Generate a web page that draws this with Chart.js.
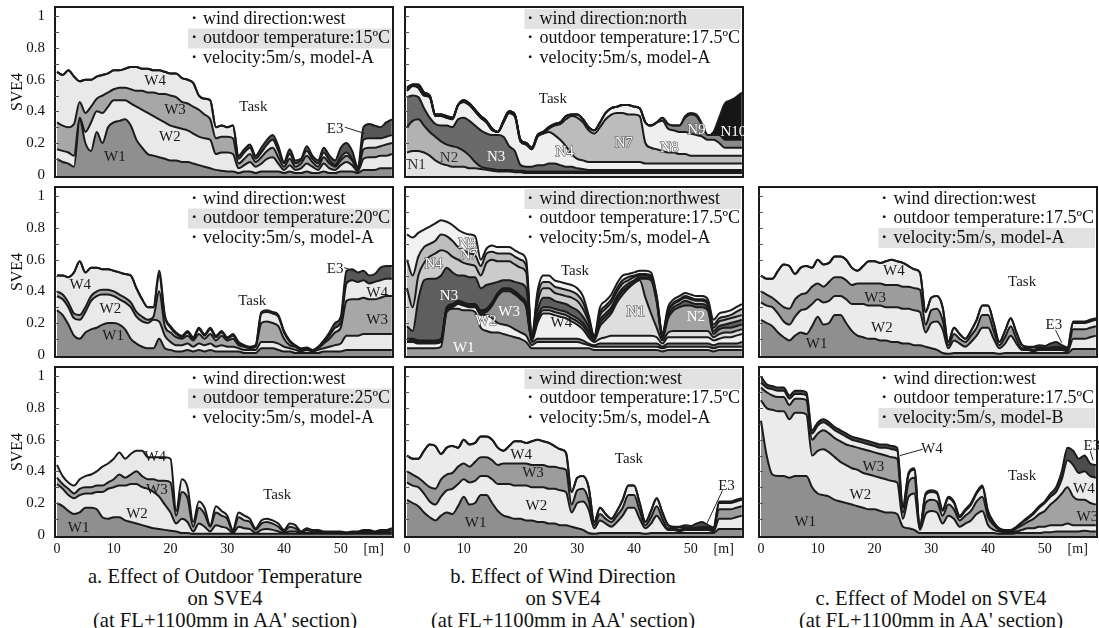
<!DOCTYPE html>
<html>
<head>
<meta charset="utf-8">
<script src="https://cdn.jsdelivr.net/npm/chart.js@4.4.1/dist/chart.umd.min.js"></script>
<style>
html,body{margin:0;padding:0;background:#fff;}
body{width:1099px;height:628px;position:relative;overflow:hidden;font-family:"Liberation Serif","Times New Roman",serif;}
canvas{position:absolute;}
.cap{position:absolute;text-align:center;font-size:20px;line-height:21px;color:#111;white-space:nowrap;transform:translateX(-50%) scale(1.03,1.05);transform-origin:50% 0;}
</style>
</head>
<body>
<div class="cap" style="left:225px;top:565px;">a. Effect of Outdoor Temperature<br>on SVE4<br>(at FL+1100mm in AA' section)</div>
<div class="cap" style="left:563px;top:565px;">b. Effect of Wind Direction<br>on SVE4<br>(at FL+1100mm in AA' section)</div>
<div class="cap" style="left:931px;top:587px;">c. Effect of Model on SVE4<br>(at FL+1100mm in AA' section)</div>
<script>
// distance along the section [m]
const distanceM = [0,1,2,3,4,5,6,7,8,9,10,11,12,13,14,15,16,17,18,19,20,21,22,23,24,25,26,27,28,29,30,31,32,33,34,35,36,37,38,39,40,41,42,43,44,45,46,47,48,49,50,51,52,53,54,55,56,57,58,59];
const yTickValues = [0,0.2,0.4,0.6,0.8,1];
const yTickLabels = ['0','0.2','0.4','0.6','0.8','1'];
const yMinorTicks = [0.1,0.2,0.3,0.4,0.5,0.6,0.7,0.8,0.9,1.0];
const xTickValues = [0,10,20,30,40,50,55.8];
const xTickLabels = ['0','10','20','30','40','50','[m]'];

// cumulative SVE4 levels (top of each window layer), west wind, 15ºC, model-A
const t15W1 = [.10,.08,.07,.05,.35,.2,.15,.27,.2,.3,.33,.34,.35,.31,.22,.17,.13,.12,.11,.1,.09,.09,.08,.08,.07,.06,.05,.04,.03,.025,.02,.02,.01,.02,.02,.01,.02,.02,.02,.02,.01,.02,.01,.01,.02,.01,.01,.02,.01,.01,.02,.02,.02,.01,.03,.03,.03,.04,.04,.04];
const t15W2 = [.16,.15,.14,.12,.36,.27,.33,.4,.39,.43,.47,.47,.47,.45,.43,.41,.39,.37,.35,.33,.31,.3,.29,.28,.26,.24,.23,.22,.13,.14,.14,.13,.04,.06,.08,.05,.07,.1,.11,.07,.03,.06,.03,.04,.07,.05,.03,.07,.04,.03,.06,.08,.06,.02,.1,.11,.11,.12,.12,.13];
const t15W3 = [.33,.31,.3,.32,.46,.39,.43,.48,.5,.52,.54,.55,.55,.54,.53,.53,.52,.52,.51,.51,.5,.49,.46,.45,.43,.41,.38,.35,.23,.24,.24,.23,.07,.1,.13,.08,.11,.15,.17,.11,.05,.1,.05,.07,.12,.08,.05,.11,.07,.05,.09,.12,.09,.03,.16,.17,.17,.18,.19,.2];
const t15W4 = [.65,.63,.66,.62,.59,.6,.6,.62,.63,.64,.66,.66,.67,.68,.68,.67,.67,.66,.66,.65,.64,.64,.61,.6,.58,.5,.48,.47,.3,.31,.3,.31,.1,.14,.17,.1,.14,.19,.22,.15,.07,.13,.07,.09,.15,.1,.07,.14,.09,.06,.11,.14,.1,.04,.22,.23,.23,.23,.24,.25];
const t15E3 = [.65,.63,.66,.62,.59,.6,.6,.62,.63,.64,.66,.66,.67,.68,.68,.67,.67,.66,.66,.65,.64,.64,.61,.6,.58,.5,.48,.47,.3,.31,.3,.31,.12,.16,.19,.12,.17,.22,.25,.18,.08,.16,.09,.1,.18,.12,.09,.17,.12,.09,.17,.2,.15,.05,.3,.32,.31,.3,.33,.35];

// west wind, 20ºC, model-A
const t20W1 = [.28,.25,.19,.12,.1,.14,.16,.17,.19,.2,.2,.19,.16,.1,.07,.05,.04,.04,.1,.04,.03,.02,.02,.03,.02,.03,.02,.03,.02,.02,.02,.02,.02,.01,.01,.01,.04,.04,.04,.03,.02,.02,.01,.01,.01,.01,.01,.02,.02,.02,.02,.03,.03,.03,.03,.03,.03,.03,.03,.03];
const t20W2 = [.37,.35,.3,.23,.22,.27,.34,.37,.38,.38,.37,.35,.33,.3,.24,.21,.2,.22,.21,.12,.08,.06,.06,.07,.05,.07,.06,.07,.05,.06,.05,.05,.04,.03,.03,.03,.08,.08,.08,.07,.05,.04,.03,.02,.03,.02,.03,.04,.05,.06,.07,.12,.12,.12,.13,.13,.13,.13,.13,.13];
const t20W3 = [.4,.38,.33,.26,.25,.3,.37,.4,.41,.41,.4,.38,.36,.33,.27,.24,.22,.24,.4,.18,.14,.11,.1,.12,.09,.13,.1,.13,.09,.12,.09,.1,.06,.05,.04,.05,.2,.21,.2,.18,.1,.06,.05,.03,.035,.025,.04,.07,.1,.14,.17,.34,.35,.35,.36,.35,.35,.36,.37,.37];
const t20W4 = [.5,.5,.49,.52,.59,.52,.55,.55,.54,.54,.53,.52,.51,.5,.42,.35,.3,.3,.5,.24,.17,.13,.11,.14,.1,.16,.12,.16,.11,.14,.1,.12,.07,.055,.045,.055,.26,.27,.26,.24,.14,.08,.055,.035,.04,.028,.045,.08,.12,.17,.2,.45,.47,.46,.47,.45,.46,.47,.48,.48];
const t20E3 = [.5,.5,.49,.52,.59,.52,.55,.55,.54,.54,.53,.52,.51,.5,.42,.35,.3,.3,.53,.25,.18,.14,.12,.15,.11,.17,.13,.17,.12,.15,.11,.13,.08,.06,.05,.06,.27,.28,.27,.25,.15,.09,.06,.04,.045,.03,.05,.09,.14,.2,.24,.53,.54,.52,.53,.5,.51,.55,.56,.56];

// west wind, 25ºC, model-A
const t25W1 = [.2,.18,.15,.13,.14,.17,.17,.16,.11,.1,.11,.11,.09,.08,.07,.06,.05,.04,.035,.03,.025,.02,.01,.01,.005,.005,.005,.005,.005,.005,.005,.005,.005,.005,.005,.005,.005,.005,.005,.005,.005,.005,.005,.005,.005,.005,.005,.005,.005,.005,.005,.005,.005,.005,.005,.005,.005,.005,.005,.005];
const t25W2 = [.32,.29,.25,.23,.25,.26,.26,.27,.27,.29,.3,.31,.31,.32,.32,.3,.29,.27,.24,.19,.14,.07,.1,.08,.02,.07,.05,.02,.06,.05,.04,.01,.05,.04,.035,.01,.03,.035,.03,.02,.01,.02,.02,.01,.01,.01,.01,.01,.01,.01,.01,.008,.01,.01,.012,.012,.01,.012,.012,.015];
const t25W3 = [.36,.32,.29,.26,.29,.3,.3,.31,.31,.33,.35,.38,.36,.38,.4,.37,.35,.35,.34,.34,.33,.12,.27,.23,.05,.17,.13,.05,.14,.12,.1,.02,.11,.09,.08,.03,.07,.08,.07,.05,.02,.05,.04,.015,.03,.02,.02,.015,.015,.015,.015,.01,.015,.015,.02,.02,.015,.02,.02,.03];
const t25W4 = [.44,.37,.33,.31,.35,.37,.38,.4,.43,.45,.48,.52,.48,.51,.53,.53,.49,.49,.49,.49,.48,.15,.35,.3,.08,.21,.17,.06,.18,.15,.12,.03,.14,.12,.1,.04,.09,.1,.09,.07,.03,.07,.06,.02,.04,.03,.03,.02,.02,.02,.02,.015,.02,.02,.03,.03,.02,.03,.03,.04];

// north wind, 17.5ºC, model-A
const nN1 = [.14,.15,.15,.14,.12,.09,.07,.06,.05,.05,.05,.04,.04,.035,.03,.025,.02,.02,.02,.015,.015,.01,.01,.01,.01,.01,.01,.01,.01,.01,.01,.01,.01,.01,.01,.01,.01,.01,.01,.01,.01,.01,.01,.01,.01,.01,.01,.01,.01,.01,.01,.01,.01,.01,.01,.01,.01,.01,.01,.01];
const nN2 = [.3,.34,.35,.31,.27,.24,.21,.19,.18,.17,.15,.12,.08,.05,.04,.035,.03,.03,.03,.025,.025,.02,.02,.02,.02,.02,.02,.02,.02,.02,.02,.02,.02,.02,.02,.02,.02,.02,.02,.02,.02,.02,.02,.02,.02,.02,.02,.02,.02,.02,.02,.02,.02,.02,.02,.02,.02,.02,.02,.02];
const nN3 = [.49,.5,.49,.42,.36,.32,.31,.31,.3,.35,.36,.34,.31,.28,.26,.25,.25,.24,.18,.15,.06,.05,.05,.06,.06,.07,.07,.06,.05,.05,.04,.035,.03,.03,.03,.03,.03,.03,.03,.03,.03,.03,.03,.03,.03,.03,.03,.03,.03,.03,.03,.03,.03,.03,.03,.03,.03,.03,.03,.03];
const nN4 = [.53,.56,.55,.5,.49,.37,.37,.36,.35,.44,.46,.44,.4,.36,.33,.28,.27,.33,.39,.37,.21,.19,.16,.24,.26,.27,.25,.22,.18,.13,.1,.09,.08,.08,.08,.08,.08,.08,.08,.08,.08,.08,.07,.07,.07,.07,.07,.07,.07,.07,.07,.07,.07,.07,.07,.07,.07,.07,.07,.07];
const nN7 = [.53,.56,.55,.5,.49,.37,.37,.36,.35,.44,.46,.44,.4,.36,.33,.28,.27,.33,.39,.37,.21,.19,.16,.24,.26,.29,.31,.32,.35,.37,.36,.33,.28,.26,.3,.35,.38,.39,.39,.38,.38,.37,.2,.17,.16,.15,.14,.14,.13,.13,.12,.12,.12,.12,.12,.12,.12,.12,.12,.12];
const nN8 = [.54,.57,.56,.51,.5,.38,.38,.37,.36,.44,.47,.45,.41,.37,.34,.29,.27,.34,.4,.38,.22,.2,.17,.25,.27,.3,.32,.33,.37,.38,.38,.35,.3,.28,.33,.39,.42,.43,.44,.44,.43,.42,.33,.31,.33,.34,.29,.28,.27,.27,.26,.25,.24,.22,.22,.2,.17,.17,.17,.17];
const nN9 = [.55,.57,.57,.52,.5,.38,.38,.37,.36,.44,.47,.45,.41,.37,.34,.29,.27,.34,.4,.38,.22,.2,.17,.25,.27,.3,.32,.33,.37,.38,.38,.35,.3,.28,.33,.39,.42,.43,.44,.44,.43,.42,.33,.31,.33,.36,.32,.31,.31,.36,.38,.37,.31,.25,.25,.25,.22,.22,.22,.22];
const nN10 = [.55,.57,.57,.52,.5,.38,.38,.37,.36,.44,.47,.45,.41,.37,.34,.29,.27,.34,.4,.38,.22,.2,.17,.25,.27,.3,.32,.33,.37,.38,.38,.35,.3,.28,.33,.39,.42,.43,.44,.44,.43,.42,.33,.31,.33,.36,.32,.31,.31,.37,.39,.38,.32,.25,.27,.36,.45,.47,.49,.52];

// northwest wind, 17.5ºC, model-A
const nwW1 = [.04,.04,.04,.04,.04,.04,.05,.27,.29,.29,.28,.28,.27,.17,.15,.14,.14,.13,.12,.11,.1,.08,.04,.04,.04,.04,.04,.04,.04,.04,.04,.04,.04,.03,.03,.03,.03,.03,.03,.03,.03,.03,.03,.03,.03,.02,.03,.03,.03,.03,.03,.03,.03,.03,.02,.03,.03,.03,.03,.03];
const nwW2 = [.08,.08,.07,.07,.07,.07,.08,.28,.3,.32,.31,.3,.3,.25,.25,.23,.2,.19,.18,.16,.14,.12,.06,.08,.08,.08,.08,.08,.08,.08,.08,.07,.06,.05,.05,.05,.05,.05,.05,.05,.05,.05,.05,.05,.05,.04,.05,.05,.05,.05,.05,.05,.05,.05,.04,.05,.05,.05,.05,.05];
const nwW3 = [.085,.085,.075,.075,.075,.075,.085,.285,.305,.325,.315,.305,.305,.26,.27,.31,.37,.4,.4,.38,.35,.3,.08,.1,.1,.1,.1,.1,.1,.1,.1,.09,.07,.06,.07,.07,.07,.07,.07,.07,.07,.07,.07,.07,.07,.05,.07,.07,.07,.07,.07,.07,.07,.07,.06,.07,.07,.07,.07,.08];
const nwW4 = [.09,.09,.08,.08,.08,.08,.09,.29,.31,.33,.32,.31,.31,.27,.28,.32,.38,.41,.41,.39,.36,.31,.09,.2,.26,.26,.25,.24,.23,.21,.19,.16,.11,.08,.1,.11,.12,.12,.12,.12,.12,.12,.12,.12,.11,.07,.11,.11,.11,.11,.11,.11,.11,.11,.09,.1,.11,.11,.12,.13];
const nwN1 = [.095,.095,.085,.085,.085,.085,.095,.295,.315,.335,.325,.315,.315,.275,.285,.325,.385,.415,.415,.395,.365,.315,.095,.22,.28,.28,.27,.26,.25,.23,.21,.18,.13,.09,.18,.22,.26,.33,.38,.42,.45,.47,.36,.26,.17,.09,.14,.15,.15,.15,.15,.15,.15,.15,.11,.13,.14,.14,.15,.16];
const nwN2 = [.1,.1,.09,.09,.09,.09,.1,.3,.32,.34,.33,.32,.32,.28,.29,.33,.39,.42,.42,.4,.37,.32,.1,.24,.3,.3,.29,.28,.27,.25,.23,.2,.15,.1,.2,.24,.28,.35,.4,.43,.46,.48,.48,.47,.33,.1,.23,.28,.3,.31,.31,.3,.3,.28,.13,.16,.17,.17,.18,.19];
const nwN3 = [.18,.15,.35,.47,.48,.48,.5,.55,.52,.5,.5,.49,.49,.42,.44,.45,.46,.47,.47,.46,.45,.42,.105,.28,.36,.36,.34,.33,.32,.3,.28,.24,.18,.1,.22,.26,.3,.37,.42,.45,.47,.49,.49,.48,.34,.11,.25,.3,.32,.34,.33,.32,.32,.3,.15,.18,.19,.2,.21,.22];
const nwN4 = [.42,.3,.5,.58,.62,.64,.66,.65,.62,.6,.58,.57,.56,.5,.58,.6,.59,.59,.59,.57,.55,.52,.11,.33,.42,.42,.39,.38,.37,.36,.34,.29,.21,.11,.25,.29,.33,.4,.45,.47,.49,.5,.5,.49,.35,.12,.27,.32,.34,.36,.35,.34,.34,.32,.17,.21,.22,.23,.24,.25];
const nwN7 = [.6,.5,.62,.68,.7,.72,.76,.75,.72,.68,.66,.64,.63,.56,.64,.65,.64,.64,.64,.62,.6,.56,.115,.37,.46,.46,.43,.42,.41,.4,.38,.33,.23,.11,.27,.31,.35,.42,.47,.49,.5,.51,.51,.5,.36,.13,.28,.33,.35,.37,.36,.35,.35,.33,.19,.23,.24,.25,.27,.29];
const nwN8 = [.76,.74,.77,.79,.81,.83,.85,.84,.82,.79,.77,.76,.75,.6,.67,.69,.68,.68,.68,.66,.64,.6,.12,.4,.5,.5,.47,.46,.45,.44,.42,.37,.25,.12,.3,.34,.38,.45,.5,.51,.52,.53,.53,.52,.37,.14,.3,.35,.37,.39,.38,.37,.37,.35,.22,.26,.27,.28,.3,.32];

// west wind, 17.5ºC, model-A
const wA_W1 = [.22,.2,.18,.14,.11,.09,.12,.14,.13,.18,.24,.19,.2,.25,.25,.2,.15,.12,.11,.1,.1,.09,.09,.08,.08,.07,.07,.06,.06,.05,.04,.03,.01,.005,.01,.01,.01,.01,.01,.01,.01,.01,.005,.01,.01,.01,.01,.01,.01,.01,.01,.01,.01,.01,.01,.035,.035,.035,.035,.035];
const wA_W2 = [.33,.31,.3,.26,.21,.19,.24,.28,.29,.32,.35,.33,.34,.37,.37,.35,.32,.32,.32,.31,.31,.31,.3,.3,.3,.29,.29,.28,.27,.14,.2,.21,.16,.04,.09,.07,.05,.08,.12,.17,.17,.1,.04,.07,.12,.07,.03,.03,.02,.03,.03,.03,.03,.03,.02,.1,.1,.1,.11,.12];
const wA_W3 = [.4,.38,.36,.33,.3,.29,.35,.38,.39,.43,.45,.43,.46,.49,.49,.47,.44,.45,.45,.45,.45,.45,.44,.44,.44,.43,.43,.42,.41,.19,.28,.29,.22,.06,.13,.1,.08,.12,.17,.25,.25,.15,.06,.11,.18,.1,.04,.04,.03,.04,.04,.04,.04,.04,.03,.16,.16,.16,.17,.18];
const wA_W4 = [.5,.48,.48,.53,.57,.56,.51,.55,.56,.55,.6,.57,.58,.62,.62,.6,.55,.53,.56,.59,.59,.58,.59,.6,.59,.58,.56,.54,.52,.27,.36,.37,.3,.08,.17,.13,.1,.15,.22,.31,.31,.2,.08,.15,.23,.14,.06,.045,.045,.045,.04,.045,.05,.045,.04,.2,.2,.2,.21,.22];
const wA_E3 = [.5,.48,.48,.53,.57,.56,.51,.55,.56,.55,.6,.57,.58,.62,.62,.6,.55,.53,.56,.59,.59,.58,.59,.6,.59,.58,.56,.54,.52,.27,.36,.37,.3,.08,.17,.13,.1,.15,.22,.31,.31,.2,.08,.15,.23,.14,.06,.05,.05,.06,.055,.07,.08,.06,.045,.21,.21,.21,.22,.23];

// west wind, 17.5ºC, model-B
const mB_W1 = [.72,.5,.38,.37,.37,.36,.37,.37,.37,.3,.26,.25,.24,.22,.21,.2,.19,.18,.17,.16,.16,.15,.14,.14,.13,.05,.04,.03,.01,.01,.01,.01,.01,.01,.01,.01,.01,.01,.01,.01,.01,.01,.005,.005,.005,.01,.01,.01,.01,.01,.015,.015,.02,.02,.02,.02,.02,.025,.02,.02];
const mB_W2 = [.85,.8,.79,.78,.78,.73,.77,.77,.76,.5,.53,.54,.52,.49,.46,.44,.42,.41,.39,.38,.37,.36,.35,.34,.33,.1,.24,.26,.03,.13,.15,.14,.07,.12,.1,.05,.07,.09,.13,.15,.06,.03,.02,.015,.015,.02,.03,.04,.04,.05,.05,.06,.06,.06,.07,.06,.06,.06,.06,.06];
const mB_W3 = [.93,.9,.88,.87,.87,.82,.86,.86,.85,.6,.64,.66,.64,.61,.59,.57,.56,.55,.54,.53,.52,.51,.5,.49,.48,.14,.33,.36,.04,.2,.22,.21,.12,.19,.16,.09,.12,.15,.21,.24,.11,.06,.03,.02,.02,.04,.06,.08,.1,.13,.15,.19,.22,.26,.3,.24,.22,.22,.2,.19];
const mB_W4 = [.96,.93,.92,.91,.91,.86,.89,.89,.88,.64,.69,.71,.69,.66,.64,.62,.6,.59,.58,.57,.56,.55,.55,.54,.53,.17,.38,.41,.05,.25,.27,.26,.15,.23,.2,.11,.15,.19,.26,.3,.14,.07,.035,.025,.025,.045,.075,.1,.13,.17,.2,.24,.27,.35,.47,.44,.39,.4,.37,.36];
const mB_E3 = [1.0,.95,.94,.93,.93,.88,.91,.91,.9,.66,.71,.73,.71,.68,.66,.64,.62,.61,.6,.59,.58,.57,.57,.56,.55,.18,.39,.42,.05,.26,.28,.27,.16,.24,.21,.12,.16,.2,.27,.31,.15,.08,.04,.03,.03,.05,.08,.11,.14,.18,.21,.26,.3,.4,.55,.53,.48,.5,.45,.44];

const SERIF = '"Liberation Serif", "Times New Roman", serif';
Chart.defaults.font.family = SERIF;
Chart.defaults.color = '#111';

const colLeft = [55, 405, 759];
const colRight = [393, 743, 1097];
const rowTop = [7, 187, 367];
const PANEL_H = 170;

const info = (wind, temp, model) => ['wind direction:' + wind, 'outdoor temperature:' + temp + 'ºC', 'velocity:5m/s, model-' + model];

const panels = [
  { col: 0, row: 0, info: info('west', '15', 'A'), hi: 1,
    layers: [['W1', t15W1, '#8f8f8f'], ['W2', t15W2, '#e9e9e9'], ['W3', t15W3, '#a7a7a7'], ['W4', t15W4, '#e9e9e9'], ['E3', t15E3, '#575757']],
    labels: [['W4', 17.3, .59], ['W3', 20.8, .41], ['W2', 19.9, .24], ['W1', 10.2, .11], ['Task', 34.6, .43], ['E3', 49, .29]],
    leaders: [[[50.7, .3], [54.2, .26]]] },
  { col: 0, row: 1, info: info('west', '20', 'A'), hi: 1,
    layers: [['W1', t20W1, '#8f8f8f'], ['W2', t20W2, '#e9e9e9'], ['W3', t20W3, '#a7a7a7'], ['W4', t20W4, '#e9e9e9'], ['E3', t20E3, '#575757']],
    labels: [['W4', 4.1, .44], ['W2', 9.4, .29], ['W1', 9.9, .12], ['Task', 34.4, .34], ['E3', 49, .54], ['W4', 56.4, .39], ['W3', 56.4, .22]],
    leaders: [[[50.6, .55], [53, .52]]] },
  { col: 0, row: 2, info: info('west', '25', 'A'), hi: 1,
    layers: [['W1', t25W1, '#8f8f8f'], ['W2', t25W2, '#e9e9e9'], ['W3', t25W3, '#a7a7a7'], ['W4', t25W4, '#e9e9e9']],
    labels: [['W4', 17.3, .49], ['W3', 17.6, .28], ['W2', 14.1, .13], ['W1', 3.8, .04], ['Task', 38.8, .25]],
    leaders: [] },
  { col: 1, row: 0, info: info('north', '17.5', 'A'), hi: 0,
    layers: [['N1', nN1, '#e2e2e2'], ['N2', nN2, '#b2b2b2'], ['N3', nN3, '#6a6a6a'], ['N4', nN4, '#efefef'], ['N7', nN7, '#bcbcbc'], ['N8', nN8, '#efefef'], ['N9', nN9, '#8a8a8a'], ['N10', nN10, '#161616']],
    labels: [['N1', 1.7, .06, '#333'], ['N2', 7.4, .105, '#333'], ['N3', 15.7, .11, '#fff'], ['N4', 27.8, .14, 'o'], ['N7', 38.2, .2, 'o'], ['N8', 46.2, .17, 'o'], ['N9', 51, .28, 'o'], ['N10', 57.5, .27, '#fff'], ['Task', 25.7, .48]],
    leaders: [] },
  { col: 1, row: 1, info: info('northwest', '17.5', 'A'), hi: 0,
    layers: [['W1', nwW1, '#9c9c9c'], ['W2', nwW2, '#efefef'], ['W3', nwW3, '#8e8e8e'], ['W4', nwW4, '#efefef'], ['N1', nwN1, '#dedede'], ['N2', nwN2, '#a2a2a2'], ['N3', nwN3, '#5e5e5e'], ['N4', nwN4, '#cbcbcb'], ['N7', nwN7, '#bdbdbd'], ['N8', nwN8, '#f1f1f1']],
    labels: [['N8', 10.6, .7, 'o'], ['N7', 10.9, .63, 'o'], ['N4', 4.7, .57, 'o'], ['N3', 7.4, .37, '#fff'], ['W2', 13.9, .215, 'o'], ['W3', 18, .27, '#fff'], ['W1', 10, .04, '#fff'], ['W4', 27.2, .2], ['N1', 40.3, .27, 'o'], ['N2', 50.9, .24, '#fff'], ['Task', 29.6, .53]],
    leaders: [] },
  { col: 1, row: 2, info: info('west', '17.5', 'A'), hi: 0,
    layers: [['W1', wA_W1, '#8f8f8f'], ['W2', wA_W2, '#ebebeb'], ['W3', wA_W3, '#9c9c9c'], ['W4', wA_W4, '#ebebeb'], ['E3', wA_E3, '#4c4c4c']],
    labels: [['W4', 20.1, .5], ['W3', 22.2, .39], ['W2', 22.8, .18], ['W1', 12.1, .07], ['Task', 39.1, .48], ['E3', 56.3, .31]],
    leaders: [[[55.6, .28], [52.7, .06]]] },
  { col: 2, row: 1, info: info('west', '17.5', 'A'), hi: 2,
    layers: [['W1', wA_W1, '#8f8f8f'], ['W2', wA_W2, '#ebebeb'], ['W3', wA_W3, '#9c9c9c'], ['W4', wA_W4, '#ebebeb'], ['E3', wA_E3, '#4c4c4c']],
    labels: [['W4', 23.4, .53], ['W3', 20.1, .36], ['W2', 21.3, .17], ['W1', 9.8, .068], ['Task', 46, .46], ['E3', 51.6, .19]],
    leaders: [[[51.9, .155], [53, .075]]] },
  { col: 2, row: 2, info: info('west', '17.5', 'B'), hi: 2,
    layers: [['W1', mB_W1, '#8f8f8f'], ['W2', mB_W2, '#ebebeb'], ['W3', mB_W3, '#a2a2a2'], ['W4', mB_W4, '#ebebeb'], ['E3', mB_E3, '#4c4c4c']],
    labels: [['W4', 30.1, .54], ['W3', 19.8, .43], ['W2', 17.5, .25], ['W1', 7.8, .08], ['Task', 46, .37], ['E3', 58.3, .56], ['W4', 56.9, .29], ['W3', 57.5, .11]],
    leaders: [[[28.5, .54], [24.5, .5]], [[58, .53], [58.5, .47]]] }
];

// frame, minor ticks, layer names, leader lines and the condition box of each panel
const panelDecor = {
  id: 'panelDecor',
  afterDatasetsDraw(chart, args, opts) {
    const { ctx, chartArea: a, scales: { x, y } } = chart;
    ctx.save();
    ctx.strokeStyle = '#1a1a1a';
    ctx.lineWidth = 2;
    ctx.strokeRect(a.left, a.top, a.right - a.left, a.bottom - a.top);

    ctx.lineWidth = 1;
    ctx.strokeStyle = '#555';
    yMinorTicks.forEach(v => {
      const py = Math.round(y.getPixelForValue(v)) + 0.5;
      ctx.beginPath();
      ctx.moveTo(a.left, py);
      ctx.lineTo(a.left + 4, py);
      ctx.stroke();
    });

    ctx.strokeStyle = '#222';
    opts.leaders.forEach(([p, q]) => {
      ctx.beginPath();
      ctx.moveTo(x.getPixelForValue(p[0]), y.getPixelForValue(p[1]));
      ctx.lineTo(x.getPixelForValue(q[0]), y.getPixelForValue(q[1]));
      ctx.stroke();
    });

    ctx.font = '15px ' + SERIF;
    ctx.textAlign = 'center';
    ctx.textBaseline = 'middle';
    opts.labels.forEach(([t, m, v, c]) => {
      const px = x.getPixelForValue(m), py = y.getPixelForValue(v);
      if (c === 'o') {
        ctx.lineWidth = 1.2;
        ctx.strokeStyle = '#555';
        ctx.strokeText(t, px, py);
        ctx.fillStyle = '#fff';
      } else {
        ctx.fillStyle = c || '#1a1a1a';
      }
      ctx.fillText(t, px, py);
    });

    ctx.font = '18px ' + SERIF;
    const maxW = Math.max(...opts.info.map(t => ctx.measureText(t).width));
    const tx = a.right - 3 - maxW;
    opts.info.forEach((t, i) => {
      const cy = a.top + 12 + i * 19.5;
      if (i === opts.hi) {
        ctx.fillStyle = '#e2e2e2';
        ctx.fillRect(tx - 15, cy - 10, a.right - 2 - (tx - 15), 20);
      }
      ctx.fillStyle = '#111';
      ctx.textAlign = 'left';
      ctx.fillText(t, tx, cy);
      ctx.textAlign = 'center';
      ctx.fillText('・', tx - 9, cy);
    });
    ctx.restore();
  }
};

function panelConfig(p) {
  const showY = p.col === 0, showX = p.row === 2;
  return {
    type: 'line',
    data: {
      datasets: p.layers.map(([name, vals, color], i) => ({
        label: name,
        data: vals.map((v, k) => ({ x: distanceM[k], y: v })),
        fill: i === 0 ? 'start' : '-1',
        backgroundColor: color,
        borderColor: '#1b1b1b',
        borderWidth: 2,
        pointRadius: 0,
        cubicInterpolationMode: 'monotone'
      }))
    },
    options: {
      responsive: false,
      animation: false,
      devicePixelRatio: 1,
      events: [],
      layout: { padding: { left: showY ? 0 : 8, right: 4, top: 10, bottom: showX ? 0 : 10 } },
      plugins: {
        legend: { display: false },
        tooltip: { enabled: false },
        filler: { drawTime: 'beforeDatasetsDraw', propagate: false },
        panelDecor: { labels: p.labels, leaders: p.leaders, info: p.info, hi: p.hi }
      },
      scales: {
        x: {
          type: 'linear', min: -0.35, max: 59.2, display: showX,
          grid: { display: false, drawTicks: false }, border: { display: false },
          afterBuildTicks: s => { s.ticks = xTickValues.map(v => ({ value: v })); },
          ticks: { autoSkip: false, maxRotation: 0, padding: 4, font: { family: SERIF, size: 14 }, color: '#111',
                   callback: (v, i) => xTickLabels[i] },
          afterFit: s => { s.height = 24; }
        },
        y: {
          type: 'linear', min: -0.015, max: 1.06, display: showY,
          grid: { display: false, drawTicks: false }, border: { display: false },
          afterBuildTicks: s => { s.ticks = yTickValues.map(v => ({ value: v })); },
          ticks: { padding: 10, font: { family: SERIF, size: 15 }, color: '#111',
                   callback: (v, i) => yTickLabels[i] },
          title: { display: true, text: 'SVE4', font: { family: SERIF, size: 16 }, color: '#111', padding: { top: 8, bottom: 0 } },
          afterFit: s => { s.width = 55; }
        }
      }
    },
    plugins: [panelDecor]
  };
}

function buildPanel(p) {
  const W = colRight[p.col] - colLeft[p.col];
  const H = PANEL_H;
  const cv = document.createElement('canvas');
  document.body.appendChild(cv);
  let cw = W + 80, ch = H + 50, chart = null;
  for (let k = 0; k < 4; k++) {
    cv.width = cw; cv.height = ch;
    cv.style.width = cw + 'px'; cv.style.height = ch + 'px';
    chart = new Chart(cv, panelConfig(p));
    const a = chart.chartArea;
    const dw = W - (a.right - a.left), dh = H - (a.bottom - a.top);
    if (Math.abs(dw) < 0.5 && Math.abs(dh) < 0.5) break;
    chart.destroy();
    cw += Math.round(dw); ch += Math.round(dh);
  }
  const a = chart.chartArea;
  cv.style.left = (colLeft[p.col] - a.left) + 'px';
  cv.style.top = (rowTop[p.row] - a.top) + 'px';
}

panels.forEach(buildPanel);
</script>
</body>
</html>
